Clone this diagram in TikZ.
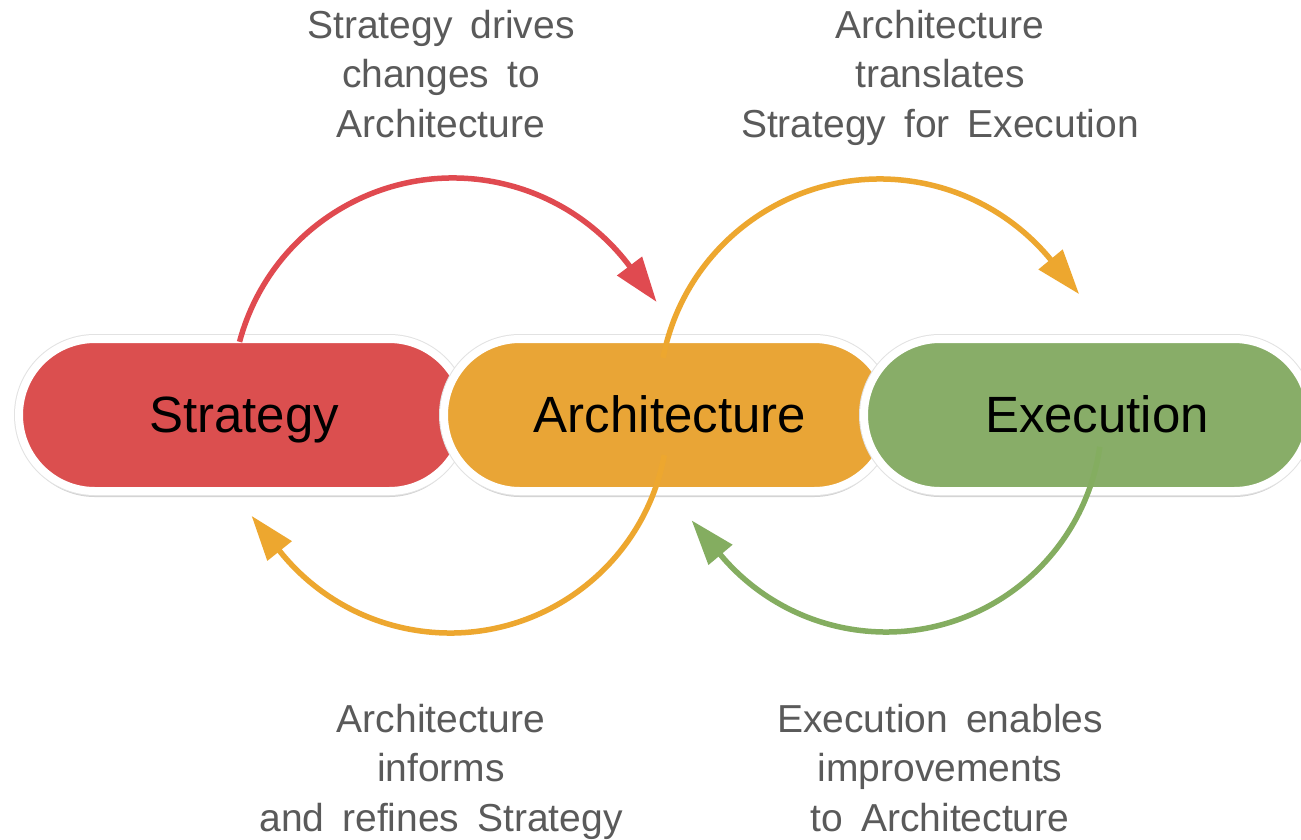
\documentclass[tikz,border=0pt]{standalone}
\usepackage{fontspec}
\setmainfont{Liberation Sans}
\usetikzlibrary{arrows.meta,shadows,calc}
\definecolor{pillred}{HTML}{DB4F4F}
\definecolor{pillorange}{HTML}{E9A536}
\definecolor{pillgreen}{HTML}{88AD68}
\definecolor{arcred}{HTML}{E04A50}
\definecolor{arcorange}{HTML}{EDA72F}
\definecolor{arcgreen}{HTML}{84AD60}
\definecolor{labelgray}{HTML}{5A5A5A}
\definecolor{rimgray}{HTML}{E2E2E2}
\newcommand{\lblfont}{\fontsize{39}{49.5}\selectfont\setlength{\spaceskip}{0.46em}}
\tikzset{
  pill/.style={draw=white, line width=8pt, rounded corners=75.9pt,
    minimum width=446pt, minimum height=152pt, inner sep=0pt,
    drop shadow={opacity=0.35, shadow xshift=0pt, shadow yshift=-6pt},
    preaction={draw=rimgray, line width=10pt}},
  pilltext/.style={anchor=base, text=black, inner sep=0pt,
    font=\fontsize{51}{60}\selectfont},
  lbl/.style={anchor=base, text=labelgray, align=center, inner sep=0pt,
    font=\lblfont},
  loop/.style={line width=5.5pt, -{Triangle[length=45pt,width=30pt]}}
}
\begin{document}
\begin{tikzpicture}[x=1pt,y=-1pt]
\useasboundingbox (0,0) rectangle (1301,839);
\fill[white] (0,0) rectangle (1301,839);
% pills
\node[pill, fill=pillred] (S) at (242,415) {};
\node[pill, fill=pillorange] (A) at (667,415) {};
\node[pill, fill=pillgreen] (E) at (1087,415) {};
\node[pilltext] (St) at (244,432) {Strategy};
\node[pilltext] (At) at (670,432) {Architecture};
\node[pilltext] (Et) at (1097,432) {Execution};
% arc centres and start points
\coordinate (rc) at (453,399);
\coordinate (otc) at (880,400);
\coordinate (obc) at (450,415);
\coordinate (gc) at (886,416);
\coordinate (rs) at ($(rc)+(-165:221)$);
\coordinate (ots) at ($(otc)+(-169:221)$);
\coordinate (obs) at ($(obc)+(10.6:218)$);
\coordinate (gs) at ($(gc)+(8.2:216)$);
% arcs
\draw[loop, arcred] (rs) arc[start angle=-165, end angle=-37, radius=221] -- ++(53:45);
\draw[loop, arcorange] (ots) arc[start angle=-169, end angle=-39.5, radius=221] -- ++(50.5:45);
\draw[loop, arcorange] (obs) arc[start angle=10.6, end angle=141.4, radius=218] -- ++(231.4:45);
\draw[loop, arcgreen] (gs) arc[start angle=8.2, end angle=140, radius=216] -- ++(230:45);
% labels (base anchor = last line)
\node[lbl] (L1) at (441,137) {Strategy drives\\changes to\\Architecture};
\node[lbl] (L2) at (940,137) {Architecture\\translates\\Strategy for Execution};
\node[lbl] (L3) at (441,831) {Architecture\\informs\\and refines Strategy};
\node[lbl] (L4) at (940,831) {Execution enables\\improvements\\to Architecture};
\end{tikzpicture}
\end{document}
